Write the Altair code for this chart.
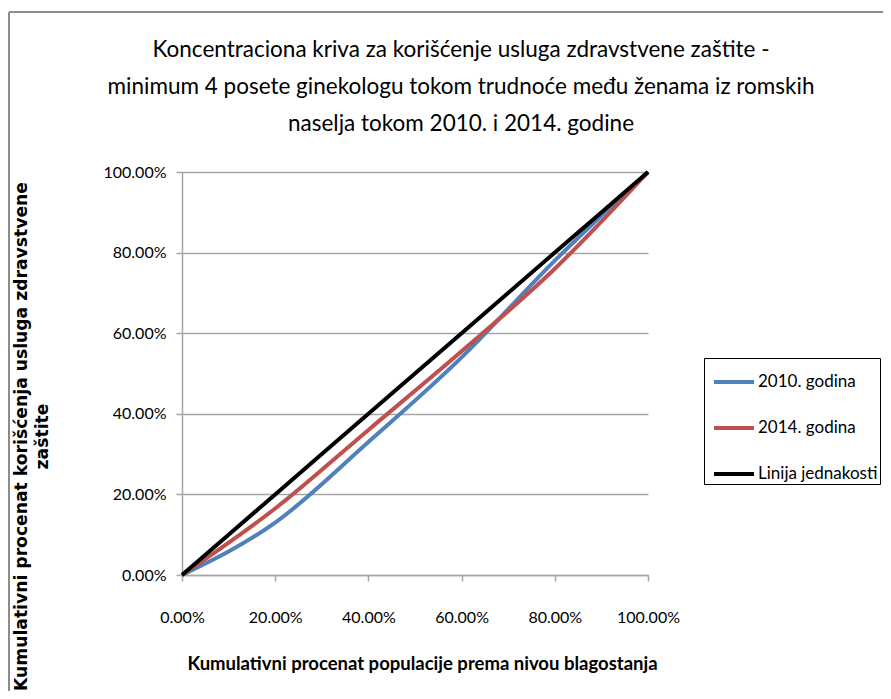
import altair as alt
import pandas as pd

x_vals = [0.0, 0.2, 0.4, 0.6, 0.8, 1.0]
y_2010 = [0.0, 0.13, 0.33, 0.54, 0.78, 1.0]
y_2014 = [0.0, 0.165, 0.36, 0.555, 0.76, 1.0]
y_eq = [0.0, 0.2, 0.4, 0.6, 0.8, 1.0]
series = ["2010. godina", "2014. godina", "Linija jednakosti"]
colors = ["#4F81BD", "#C0504D", "#000000"]
ticks = [0.0, 0.2, 0.4, 0.6, 0.8, 1.0]

rows = []
for s, ys in zip(series, [y_2010, y_2014, y_eq]):
    for i, (xv, yv) in enumerate(zip(x_vals, ys)):
        rows.append({"serija": s, "x": xv, "y": yv, "ord": i})
df = pd.DataFrame(rows)

title_lines = [
    "Koncentraciona kriva za korišćenje usluga zdravstvene zaštite -",
    "minimum 4 posete ginekologu tokom trudnoće među ženama iz romskih",
    "naselja tokom 2010. i 2014. godine",
]

lines = alt.Chart(df).mark_line(strokeWidth=4, interpolate="monotone").encode(
    x=alt.X("x:Q", scale=alt.Scale(domain=[0, 1], nice=False),
            axis=alt.Axis(values=ticks, format=".2%", grid=False,
                          labelFlush=False, labelOverlap=False,
                          title="Kumulativni procenat populacije prema nivou blagostanja",
                          titleX=240, titleY=88, titleBaseline="middle",
                          titleFont="Lato", titleFontSize=18.5, titleFontWeight="bold",
                          labelPadding=28, tickSize=6)),
    y=alt.Y("y:Q", scale=alt.Scale(domain=[0, 1], nice=False),
            axis=alt.Axis(values=ticks, format=".2%", grid=True,
                          labelFlush=False, labelOverlap=False,
                          title=["Kumulativni procenat korišćenja usluga zdravstvene", "zaštite"],
                          titleAngle=270, titleX=-170, titleY=264,
                          titleAlign="center", titleBaseline="top",
                          titleFont="DejaVu Sans", titleFontSize=17.2, titleFontWeight="bold",
                          titleLineHeight=21,
                          labelPadding=10, tickSize=6)),
    color=alt.Color("serija:N", scale=alt.Scale(domain=series, range=colors),
                    legend=alt.Legend(title=None, orient="none", legendX=522, legendY=186,
                                      symbolType="stroke", symbolSize=1600,
                                      symbolStrokeWidth=4, symbolOffset=6,
                                      labelFont="Lato", labelFontSize=17, labelOffset=2,
                                      rowPadding=16, padding=2,
                                      strokeColor="#000000", labelColor="#000000")),
    order="ord:Q",
)

one = pd.DataFrame({"a": [0]})
border_top = alt.Chart(one).mark_rule(color="#8c8c8c", strokeWidth=2).encode(
    x=alt.value(-173), x2=alt.value(710), y=alt.value(-160))
border_left = alt.Chart(one).mark_rule(color="#8c8c8c", strokeWidth=2).encode(
    x=alt.value(-173), y=alt.value(-160), y2=alt.value(540))

chart = alt.layer(border_top, border_left, lines).properties(
    width=466, height=403,
    title=alt.TitleParams(text=title_lines, font="Lato", fontSize=22.5, fontWeight="normal",
                          lineHeight=37, dx=46, offset=-124, color="#000000"),
    autosize=alt.AutoSizeParams(type="none"),
    padding={"left": 174, "top": 164, "right": 235, "bottom": 116},
).configure_view(stroke=None).configure_axis(
    labelFont="Lato", labelFontSize=16, labelColor="#000000",
    domainColor="#a6a6a6", tickColor="#a6a6a6", gridColor="#a6a6a6",
    domainWidth=1.5, tickWidth=1.5, gridWidth=1.5, titleColor="#000000",
)

chart.save("out.html", embed_options={"renderer": "svg", "actions": False})
